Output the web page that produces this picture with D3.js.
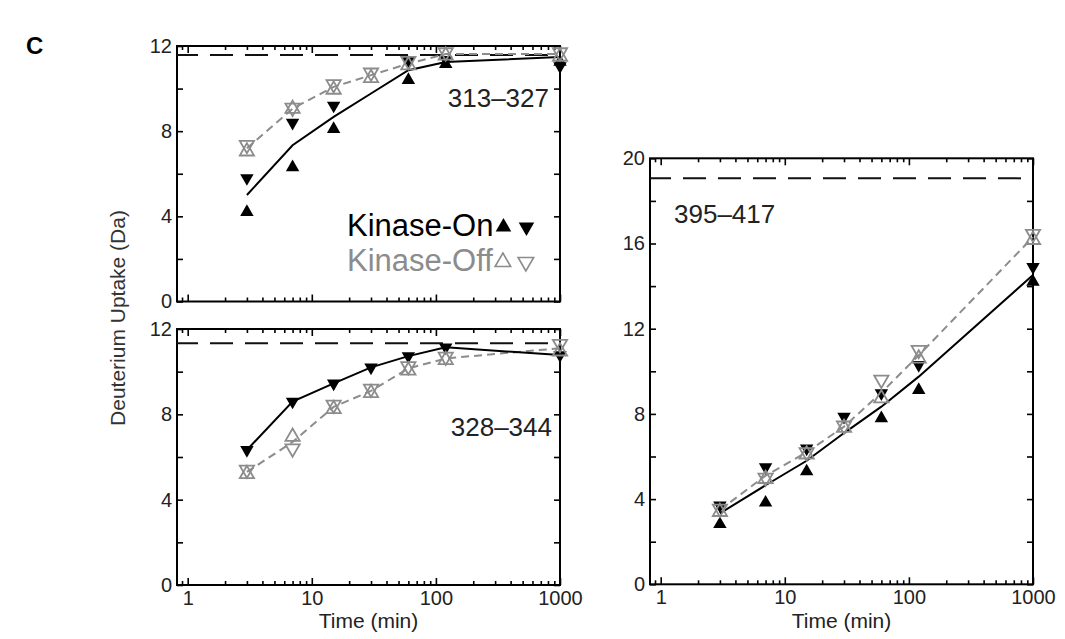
<!DOCTYPE html>
<html>
<head>
<meta charset="utf-8">
<script src="https://cdn.jsdelivr.net/npm/d3@7"></script>
<style>
  body { margin: 0; background: #fff; }
  svg { display: block; }
  text { font-family: "Liberation Sans", Arial, Helvetica, sans-serif; }
</style>
</head>
<body>
<svg id="chart" width="1065" height="639"></svg>
<script>
// Labeling times (min)
const times = [3, 7, 15, 30, 60, 120, 1000];

// Axis ticks
const xMajorTicks = [1, 10, 100, 1000];
const yTicks12 = [0, 2, 4, 6, 8, 10, 12];
const yLabels12 = [0, 4, 8, 12];
const yTicks20 = [0, 2, 4, 6, 8, 10, 12, 14, 16, 18, 20];
const yLabels20 = [0, 4, 8, 12, 16, 20];

// Peptide 313–327 (Da)
const p313OnUp    = [4.2, 6.3, 8.1, null, 10.4, 11.15, 11.25];
const p313OnDown  = [5.8, 8.4, 9.2, null, 11.3, 11.35, 11.05];
const p313OffUp   = [7.05, 9.05, 9.95, 10.5, 11.1, 11.55, 11.5];
const p313OffDown = [7.35, 9.1, 10.2, 10.75, 11.3, 11.7, 11.7];
const p313OnAvg   = [5.0, 7.34, 8.67, 9.77, 10.86, 11.25, 11.48];
const p313OffAvg  = [7.2, 9.06, 10.08, 10.63, 11.17, 11.62, 11.62];
const p313MaxD    = 11.58;

// Peptide 328–344 (Da)
const p328OnUp    = [null, null, null, null, null, null, null];
const p328OnDown  = [6.33, 8.6, 9.45, 10.2, 10.73, 11.14, 10.78];
const p328OffUp   = [5.2, 6.95, 8.25, 9.0, 10.05, 10.55, 10.95];
const p328OffDown = [5.4, 6.4, 8.45, 9.2, 10.25, 10.7, 11.3];
const p328OnAvg   = [6.33, 8.6, 9.45, 10.2, 10.73, 11.14, 10.78];
const p328OffAvg  = [5.3, 6.7, 8.35, 9.1, 10.15, 10.62, 11.1];
const p328MaxD    = 11.33;

// Peptide 395–417 (Da)
const p395OnUp    = [2.82, 3.83, 5.3, null, 7.79, 9.12, 14.2];
const p395OnDown  = [3.7, 5.5, 6.38, 7.87, 8.97, 10.3, 14.9];
const p395OffUp   = [3.4, 4.95, 6.1, 7.35, 8.73, 10.6, 16.17];
const p395OffDown = [3.55, 5.0, 6.2, 7.45, 9.6, 11.0, 16.45];
const p395OnAvg   = [3.33, 4.65, 5.8, 7.1, 8.34, 9.75, 14.52];
const p395OffAvg  = [3.49, 5.1, 6.2, 7.4, 9.0, 10.75, 16.3];
const p395MaxD    = 19.06;

const legendLabels = ["Kinase-On", "Kinase-Off"];
const axisTitleX = "Time (min)";
const axisTitleY = "Deuterium Uptake (Da)";

const BLACK = "#000";
const GREY = "#8c8c8c";
const INK = "#222";

const svg = d3.select("#chart");

const panels = [
  { name: "313–327", left: 177, top: 46, width: 383, height: 255.5, yMax: 12,
    yTicks: yTicks12, yLabels: yLabels12, xLabels: false,
    onUp: p313OnUp, onDown: p313OnDown, offUp: p313OffUp, offDown: p313OffDown,
    onAvg: p313OnAvg, offAvg: p313OffAvg, maxD: p313MaxD,
    tag: { x: 549, y: 107, anchor: "end" } },
  { name: "328–344", left: 177, top: 329, width: 383, height: 256, yMax: 12,
    yTicks: yTicks12, yLabels: yLabels12, xLabels: true,
    onUp: p328OnUp, onDown: p328OnDown, offUp: p328OffUp, offDown: p328OffDown,
    onAvg: p328OnAvg, offAvg: p328OffAvg, maxD: p328MaxD,
    tag: { x: 552, y: 436, anchor: "end" } },
  { name: "395–417", left: 650, top: 158.3, width: 383, height: 426, yMax: 20,
    yTicks: yTicks20, yLabels: yLabels20, xLabels: true,
    onUp: p395OnUp, onDown: p395OnDown, offUp: p395OffUp, offDown: p395OffDown,
    onAvg: p395OnAvg, offAvg: p395OffAvg, maxD: p395MaxD,
    tag: { x: 674, y: 223, anchor: "start" } }
];

// minor ticks of the log axis
function minorTicks(domain) {
  const out = [];
  for (let d = 0.1; d <= 100; d *= 10) {
    for (let k = 2; k <= 9; k++) {
      const v = +(k * d).toPrecision(3);
      if (v >= domain[0] && v <= domain[1] && !xMajorTicks.includes(v)) out.push(v);
    }
  }
  return out;
}

const upSym = d3.symbol().type(d3.symbolTriangle).size(78)();
const openSym = d3.symbol().type(d3.symbolTriangle).size(88)();

panels.forEach(p => {
  const g = svg.append("g").attr("transform", `translate(${p.left},${p.top})`);
  const x = d3.scaleLog().domain([0.82, 1000]).range([0, p.width]);
  const y = d3.scaleLinear().domain([0, p.yMax]).range([p.height, 0]);
  const minors = minorTicks(x.domain());

  const styleAxis = sel => {
    sel.select(".domain").remove();
    sel.selectAll("line").attr("stroke", BLACK).attr("stroke-width", 1.6);
    sel.selectAll("text").attr("fill", INK).style("font-size", "20px")
      .style("font-family", '"Liberation Sans", Arial, sans-serif');
  };

  // bottom axis (inward ticks)
  g.append("g").attr("transform", `translate(0,${p.height})`)
    .call(d3.axisBottom(x).tickValues(xMajorTicks).tickSize(-7).tickSizeOuter(0).tickPadding(6)
      .tickFormat(p.xLabels ? d3.format("d") : () => ""))
    .call(styleAxis);
  g.append("g").attr("transform", `translate(0,${p.height})`)
    .call(d3.axisBottom(x).tickValues(minors).tickSize(-4).tickSizeOuter(0).tickFormat(() => ""))
    .call(styleAxis);
  // top axis
  g.append("g")
    .call(d3.axisTop(x).tickValues(xMajorTicks).tickSize(-7).tickSizeOuter(0).tickFormat(() => ""))
    .call(styleAxis);
  g.append("g")
    .call(d3.axisTop(x).tickValues(minors).tickSize(-4).tickSizeOuter(0).tickFormat(() => ""))
    .call(styleAxis);
  // left axis
  g.append("g")
    .call(d3.axisLeft(y).tickValues(p.yTicks).tickSize(-6).tickSizeOuter(0).tickPadding(5)
      .tickFormat(v => p.yLabels.includes(v) ? v : ""))
    .call(styleAxis);
  // right axis
  g.append("g").attr("transform", `translate(${p.width},0)`)
    .call(d3.axisRight(y).tickValues(p.yTicks).tickSize(-6).tickSizeOuter(0).tickFormat(() => ""))
    .call(styleAxis);

  // frame
  g.append("rect").attr("width", p.width).attr("height", p.height)
    .attr("fill", "none").attr("stroke", BLACK).attr("stroke-width", 2);

  // maximum deuteration level
  g.append("line")
    .attr("x1", 0).attr("x2", p.width)
    .attr("y1", y(p.maxD)).attr("y2", y(p.maxD))
    .attr("stroke", "#111").attr("stroke-width", 2)
    .attr("stroke-dasharray", "23,12").attr("stroke-dashoffset", 2);

  const pts = arr => times.map((t, i) => ({ t, v: arr[i] })).filter(d => d.v != null);
  const line = d3.line().x(d => x(d.t)).y(d => y(d.v));

  g.append("path").datum(pts(p.offAvg)).attr("d", line)
    .attr("fill", "none").attr("stroke", GREY).attr("stroke-width", 2)
    .attr("stroke-dasharray", "8,5");
  g.append("path").datum(pts(p.onAvg)).attr("d", line)
    .attr("fill", "none").attr("stroke", BLACK).attr("stroke-width", 2);

  // Kinase-On replicates (filled)
  g.selectAll(".onUp").data(pts(p.onUp)).join("path")
    .attr("d", upSym).attr("fill", BLACK)
    .attr("transform", d => `translate(${x(d.t)},${y(d.v)})`);
  g.selectAll(".onDown").data(pts(p.onDown)).join("path")
    .attr("d", upSym).attr("fill", BLACK)
    .attr("transform", d => `translate(${x(d.t)},${y(d.v)}) rotate(180)`);

  // Kinase-Off replicates (open)
  g.selectAll(".offUp").data(pts(p.offUp)).join("path")
    .attr("d", openSym).attr("fill", "none").attr("stroke", GREY).attr("stroke-width", 1.8)
    .attr("transform", d => `translate(${x(d.t)},${y(d.v)})`);
  g.selectAll(".offDown").data(pts(p.offDown)).join("path")
    .attr("d", openSym).attr("fill", "none").attr("stroke", GREY).attr("stroke-width", 1.8)
    .attr("transform", d => `translate(${x(d.t)},${y(d.v)}) rotate(180)`);

  // peptide label
  svg.append("text").attr("x", p.tag.x).attr("y", p.tag.y)
    .attr("text-anchor", p.tag.anchor).attr("fill", INK)
    .style("font-size", "26px").text(p.name);

  if (p.xLabels) {
    svg.append("text").attr("x", p.left + p.width / 2).attr("y", 628)
      .attr("text-anchor", "middle").attr("fill", INK)
      .style("font-size", "21px").text(axisTitleX);
  }
});

// shared y-axis title
svg.append("text").attr("transform", "translate(125,318) rotate(-90)")
  .attr("text-anchor", "middle").attr("fill", "#333")
  .style("font-size", "21px").text(axisTitleY);

// legend: one line per condition, triangles after each name
const legendRows = [
  { label: legendLabels[0], color: BLACK, filled: true },
  { label: legendLabels[1], color: GREY, filled: false }
];
const legX = 347, legY = 236, legStep = 35;
const legSym = d3.symbol().type(d3.symbolTriangle).size(105)();
legendRows.forEach((r, i) => {
  const ty = legY + i * legStep;
  const t = svg.append("text").attr("x", legX).attr("y", ty)
    .attr("fill", r.color).style("font-size", "31px").text(r.label);
  const end = legX + t.node().getComputedTextLength();
  [0, 1].forEach(k => {
    svg.append("path").attr("d", legSym)
      .attr("transform", `translate(${end + 10 + k * 23},${ty - 9}) rotate(${k * 180})`)
      .attr("fill", r.filled ? r.color : "none")
      .attr("stroke", r.filled ? "none" : r.color)
      .attr("stroke-width", 1.6);
  });
});

// panel letter
svg.append("text").attr("x", 26).attr("y", 54).attr("fill", BLACK)
  .style("font-size", "24px").style("font-weight", "bold").text("C");
</script>
</body>
</html>
